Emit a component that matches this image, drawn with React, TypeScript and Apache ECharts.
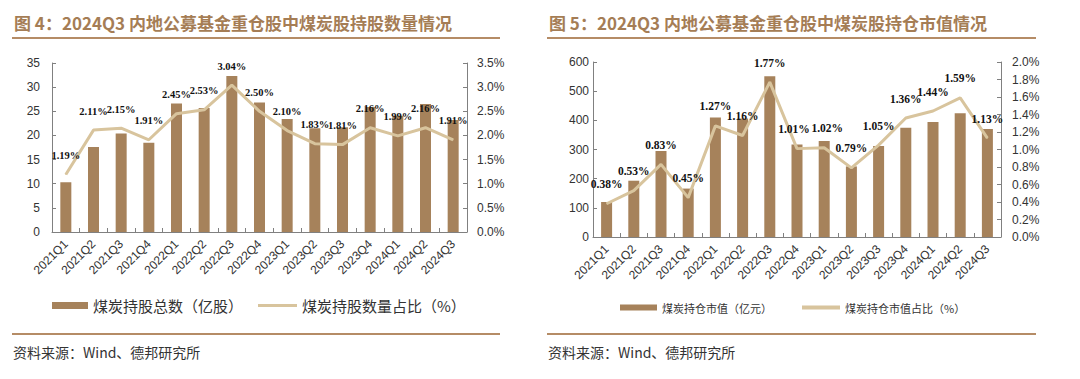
import React, { useEffect, useRef } from "react";
import * as echarts from "echarts";

const quarters = [
  "2021Q1", "2021Q2", "2021Q3", "2021Q4",
  "2022Q1", "2022Q2", "2022Q3", "2022Q4",
  "2023Q1", "2023Q2", "2023Q3", "2023Q4",
  "2024Q1", "2024Q2", "2024Q3",
];
// Chart 1: coal holdings (100m shares) and share of holdings (%)
const holdShares = [10.3, 17.6, 20.4, 18.5, 26.6, 25.7, 32.3, 26.8, 23.4, 21.5, 21.7, 25.9, 24.1, 26.5, 23.2];
const holdSharePct = [1.19, 2.11, 2.15, 1.91, 2.45, 2.53, 3.04, 2.5, 2.1, 1.83, 1.81, 2.16, 1.99, 2.16, 1.91];
// Chart 2: coal holding market value (100m yuan) and share (%)
const holdValue = [120, 193, 295, 166, 410, 406, 551, 317, 329, 242, 312, 375, 394, 424, 370];
const holdValuePct = [0.38, 0.53, 0.83, 0.45, 1.27, 1.16, 1.77, 1.01, 1.02, 0.79, 1.05, 1.36, 1.44, 1.59, 1.13];

const title1 = "图 4：2024Q3 内地公募基金重仓股中煤炭股持股数量情况";
const title2 = "图 5：2024Q3 内地公募基金重仓股中煤炭股持仓市值情况";
const source = "资料来源：Wind、德邦研究所";
const s1Bar = "煤炭持股总数（亿股）";
const s1Line = "煤炭持股数量占比（%）";
const s2Bar = "煤炭持仓市值（亿元）";
const s2Line = "煤炭持仓市值占比（%）";

const BAR = "#a6825b";
const LINE = "#d8c49d";
const TITLE = "#a57d55";
const RULE = "#b58c66";
const AXIS = "#808080";
const TXT = "#333333";
const CJK = '"Noto Sans CJK SC", sans-serif';
const SANS = '"Liberation Sans", Arial, sans-serif';
const SERIF = '"Liberation Serif", "Times New Roman", serif';

// small horizontal nudges for crowded point labels (chart 2)
const labelNudge2: Record<number, number> = { 7: -3, 8: 3 };

export default function App() {
  const ref = useRef<HTMLDivElement>(null);
  useEffect(() => {
    if (!ref.current) return;
    const chart = echarts.init(ref.current, undefined, { renderer: "svg" });

    const xAxisBase = (gi: number) => ({
      type: "category",
      gridIndex: gi,
      data: quarters,
      boundaryGap: true,
      axisLine: { lineStyle: { color: AXIS, width: 1 } },
      axisTick: { show: true, inside: true, length: 4, lineStyle: { color: AXIS } },
      axisLabel: { rotate: 45, interval: 0, fontSize: 12, color: TXT, margin: 10, fontFamily: SANS },
      splitLine: { show: false },
    });
    const yAxisBase = (gi: number, min: number, max: number, interval: number, margin: number, pct: boolean) => ({
      type: "value",
      gridIndex: gi,
      min,
      max,
      interval,
      axisLine: { show: true, lineStyle: { color: AXIS, width: 1 } },
      axisTick: { show: true, inside: true, length: 4, lineStyle: { color: AXIS } },
      splitLine: { show: false },
      axisLabel: {
        fontSize: 12,
        color: TXT,
        margin,
        fontFamily: SANS,
        formatter: pct ? (v: number) => v.toFixed(1) + "%" : (v: number) => String(v),
      },
    });
    const labelStyle = (size: number) => ({
      show: true,
      position: "top",
      distance: 13,
      formatter: (p: any) => Number(p.value).toFixed(2) + "%",
      fontFamily: SERIF,
      fontWeight: "bold",
      fontSize: size,
      color: "#111",
    });
    const legendBase = (name: string, left: number, top: number, w: number, h: number, fs: number) => ({
      data: [{ name, icon: "rect" }],
      left,
      top,
      itemWidth: w,
      itemHeight: h,
      selectedMode: false,
      padding: 0,
      textStyle: { fontSize: fs, color: TXT, fontFamily: CJK },
    });
    const textEl = (text: string, x: number, y: number, size: number, color: string, weight: string) => ({
      type: "text",
      x,
      y,
      style: { text, fill: color, fontSize: size, fontWeight: weight, fontFamily: CJK, verticalAlign: "middle" },
    });
    const ruleEl = (x: number, y: number, w: number) => ({
      type: "rect",
      shape: { x, y, width: w, height: 2 },
      style: { fill: RULE },
    });

    const line2Data = holdValuePct.map((v, i) =>
      labelNudge2[i] !== undefined ? { value: v, label: { offset: [labelNudge2[i], 0] } } : v
    );

    chart.setOption({
      animation: false,
      backgroundColor: "#ffffff",
      grid: [
        { left: 52, top: 63, width: 415, height: 169 },
        { left: 593, top: 62, width: 408, height: 175 },
      ],
      xAxis: [xAxisBase(0), xAxisBase(1)],
      yAxis: [
        yAxisBase(0, 0, 35, 5, 12, false),
        { ...yAxisBase(0, 0, 3.5, 0.5, 10, true), position: "right" },
        yAxisBase(1, 0, 600, 100, 4, false),
        { ...yAxisBase(1, 0, 2.0, 0.2, 11, true), position: "right" },
      ],
      legend: [
        legendBase(s1Bar, 52, 298, 36, 7, 15),
        legendBase(s1Line, 258, 298, 39, 3, 15),
        legendBase(s2Bar, 620, 302, 37, 6, 11),
        legendBase(s2Line, 802, 302, 38, 4, 11),
      ],
      series: [
        {
          type: "bar",
          name: s1Bar,
          xAxisIndex: 0,
          yAxisIndex: 0,
          data: holdShares,
          barWidth: 11,
          itemStyle: { color: BAR },
        },
        {
          type: "line",
          name: s1Line,
          xAxisIndex: 0,
          yAxisIndex: 1,
          data: holdSharePct,
          symbol: "circle",
          symbolSize: 1,
          lineStyle: { width: 3, color: LINE },
          itemStyle: { color: LINE },
          label: labelStyle(10.5),
          z: 3,
        },
        {
          type: "bar",
          name: s2Bar,
          xAxisIndex: 1,
          yAxisIndex: 2,
          data: holdValue,
          barWidth: 11,
          itemStyle: { color: BAR },
        },
        {
          type: "line",
          name: s2Line,
          xAxisIndex: 1,
          yAxisIndex: 3,
          data: line2Data,
          symbol: "circle",
          symbolSize: 1,
          lineStyle: { width: 3, color: LINE },
          itemStyle: { color: LINE },
          label: labelStyle(11.5),
          z: 3,
        },
      ],
      graphic: [
        textEl(title1, 14, 22, 17, TITLE, "bold"),
        textEl(title2, 549, 22, 17, TITLE, "bold"),
        ruleEl(12, 37, 488),
        ruleEl(547, 37, 489),
        ruleEl(12, 333, 488),
        ruleEl(547, 333, 489),
        textEl(source, 13, 352, 14, TXT, "normal"),
        textEl(source, 548, 352, 14, TXT, "normal"),
      ],
    });
    return () => chart.dispose();
  }, []);
  return (
    <div
      ref={ref}
      style={{ position: "absolute", left: 0, top: 0, width: 1080, height: 379, background: "#fff" }}
    />
  );
}
